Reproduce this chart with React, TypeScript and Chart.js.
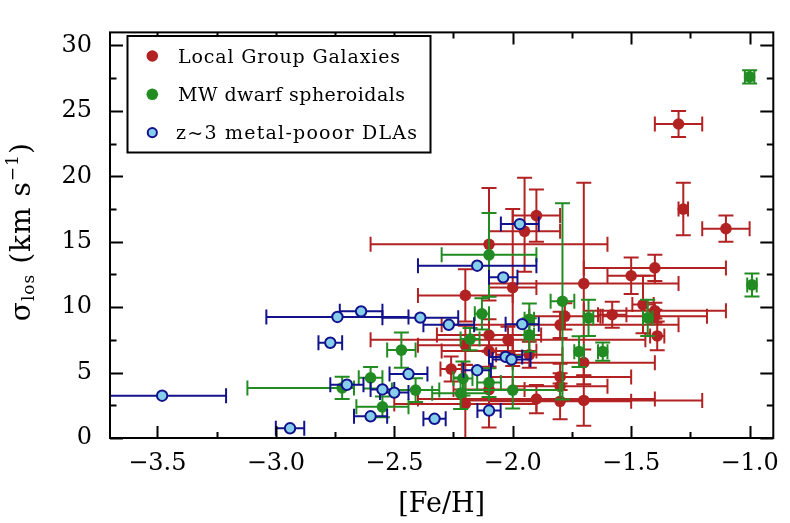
import React, { useEffect, useRef } from 'react';
import { Chart, registerables } from 'chart.js';

Chart.register(...registerables);

type Err = number | [number, number];

// ---- axis ranges / ticks ----
const X_MIN = -3.7;
const X_MAX = -0.9;
const Y_MIN = 0;
const Y_MAX = 31;
const X_MAJOR = 0.5;
const X_MINOR = 0.25;
const Y_MAJOR = 5;
const Y_MINOR = 2.5;

const X_TITLE = '[Fe/H]';
const Y_TITLE_PARTS: [string, 'main' | 'sub' | 'sup'][] = [
  ['\u03c3', 'main'],
  ['los', 'sub'],
  [' (km s', 'main'],
  ['\u22121', 'sup'],
  [')', 'main'],
];

// ---- Local Group Galaxies ----
const lgLabel = 'Local Group Galaxies';
const lgFeH = [-1.30, -1.28, -1.10, -1.90, -1.95, -2.10, -1.40, -1.50, -1.70, -2.00, -2.20, -1.45, -1.40, -1.58, -1.78, -1.40, -1.80, -2.10, -1.39, -2.02, -2.20, -2.10, -1.93, -1.70, -2.26, -1.80, -1.80, -2.10, -1.90, -1.70, -1.80, -2.20];
const lgSigma = [24.0, 17.5, 16.0, 17.0, 15.8, 14.8, 13.0, 12.4, 11.8, 11.5, 10.9, 10.2, 9.73, 9.42, 9.3, 9.3, 8.65, 7.87, 7.8, 7.5, 7.08, 6.65, 6.36, 5.76, 5.27, 4.67, 3.95, 3.7, 2.98, 2.87, 2.8, 2.6];
const lgFeHErr: Err[] = [0.1, 0.02, 0.1, 0.1, 0.15, 0.5, 0.3, 0.1, 0.4, 0.1, 0.2, 0.045, 0.3, 0.06, 0.15, 0.22, 0.5, 0.22, 0.03, 0.58, 0.2, 0.2, 0.14, 0.3, 0.045, 0.3, 0.2, 0.15, 0.5, 0.5, 0.3, 0.3];
const lgSigmaErr: Err[] = [1.0, 2.0, 1.0, 2.0, [3.1, 4.1], 4.3, 1.0, 1.4, 7.7, 6.0, 2.0, 2.2, 0.6, 1.0, 1.0, 0.5, 1.0, 1.2, 1.1, 1.0, 1.5, 1.2, 1.0, 1.0, 0.95, 1.0, 1.0, 2.9, 1.08, 1.93, 1.37, 3.0];

// ---- MW dwarf spheroidals ----
const dsLabel = 'MW dwarf spheroidals';
const dsFeH = [-1.00, -0.99, -1.79, -1.68, -1.43, -1.72, -1.62, -1.93, -1.93, -2.00, -2.13, -2.18, -2.47, -2.60, -2.41, -2.55, -2.21, -2.22, -2.10, -2.10, -2.72];
const dsSigma = [27.6, 11.7, 10.45, 9.18, 9.18, 6.6, 6.6, 9.08, 7.88, 3.66, 9.49, 7.56, 6.72, 4.6, 3.66, 2.38, 4.55, 3.42, 4.24, 14.0, 3.83];
const dsFeHErr: Err[] = [0.02, 0.02, 0.05, 0.02, 0.02, 0.02, 0.02, 0.02, 0.02, 0.2, 0.03, 0.04, 0.06, 0.05, 0.1, 0.11, 0.04, 0.12, 0.05, 0.2, [0.4, 0.05]];
const dsSigmaErr: Err[] = [0.5, 0.88, 7.5, 1.38, 1.38, 1.17, 0.7, 1.2, 1.28, [1.4, 2.6], 1.2, 0.85, 1.35, 0.82, 0.9, 0.8, 1.3, 1.2, 1.1, 3.2, 0.85];

// ---- z~3 metal-poor DLAs ----
const dlaLabel = 'z~3 metal-pooor DLAs';
const dlaFeH = [-3.48, -2.94, -2.77, -2.74, -2.64, -2.39, -2.15, -2.04, -1.97, -2.27, -1.96, -2.44, -2.15, -2.03, -2.005, -2.55, -2.50, -2.60, -2.33, -2.10, -2.70];
const dlaSigma = [3.23, 0.74, 7.28, 9.25, 9.68, 9.2, 13.17, 12.28, 16.35, 8.65, 8.7, 4.89, 5.18, 6.2, 6.0, 3.71, 3.47, 1.66, 1.47, 2.1, 4.07];
const dlaFeHErr: Err[] = [0.27, 0.06, 0.05, 0.30, 0.09, 0.16, 0.25, 0.06, 0.08, 0.107, 0.07, 0.08, 0.058, 0.07, 0.08, 0.05, 0.06, 0.07, 0.047, 0.049, 0.07];
const dlaSigmaErr: Err[] = dlaFeH.map(() => 0);

// ---- styles ----
const RED = '#b22222';
const GREEN = '#228b22';
const NAVY = '#12128c';
const SKY = '#87ceeb';
const SERIF = "'DejaVu Serif', serif";

const pair = (e: Err): [number, number] => (Array.isArray(e) ? e : [e, e]);
const toPoints = (xs: number[], ys: number[]) => xs.map((x, i) => ({ x, y: ys[i] }));

const errorBarPlugin = {
  id: 'errorBars',
  beforeDatasetDraw(chart: any, args: any) {
    const ds = chart.data.datasets[args.index];
    if (!ds.errX) return;
    const xs = chart.scales.x;
    const ys = chart.scales.y;
    const ctx: CanvasRenderingContext2D = chart.ctx;
    const a = chart.chartArea;
    const cap = 7.5;
    ctx.save();
    ctx.beginPath();
    ctx.rect(a.left, a.top, a.right - a.left, a.bottom - a.top);
    ctx.clip();
    ctx.strokeStyle = ds.errColor;
    ctx.lineWidth = 2;
    ctx.lineCap = 'butt';
    ds.data.forEach((p: any, i: number) => {
      const px = xs.getPixelForValue(p.x);
      const py = ys.getPixelForValue(p.y);
      const [xl, xh] = pair(ds.errX[i]);
      const [yl, yh] = pair(ds.errY[i]);
      ctx.beginPath();
      if (xl || xh) {
        const l = xs.getPixelForValue(p.x - xl);
        const r = xs.getPixelForValue(p.x + xh);
        ctx.moveTo(l, py);
        ctx.lineTo(r, py);
        if (xl) { ctx.moveTo(l, py - cap); ctx.lineTo(l, py + cap); }
        if (xh) { ctx.moveTo(r, py - cap); ctx.lineTo(r, py + cap); }
      }
      if (yl || yh) {
        const b = ys.getPixelForValue(p.y - yl);
        const t = ys.getPixelForValue(p.y + yh);
        ctx.moveTo(px, b);
        ctx.lineTo(px, t);
        if (yl) { ctx.moveTo(px - cap, b); ctx.lineTo(px + cap, b); }
        if (yh) { ctx.moveTo(px - cap, t); ctx.lineTo(px + cap, t); }
      }
      ctx.stroke();
    });
    ctx.restore();
  },
};

function drawSpaced(ctx: CanvasRenderingContext2D, text: string, x: number, y: number, sp: number) {
  let cx = x;
  for (const ch of Array.from(text)) {
    ctx.fillText(ch, cx, y);
    cx += ctx.measureText(ch).width + sp;
  }
  return cx;
}
function spacedWidth(ctx: CanvasRenderingContext2D, text: string, sp: number) {
  let w = 0;
  const chars = Array.from(text);
  chars.forEach((ch, i) => { w += ctx.measureText(ch).width + (i < chars.length - 1 ? sp : 0); });
  return w;
}

const framePlugin = {
  id: 'frameTicks',
  afterDatasetsDraw(chart: any) {
    const ctx: CanvasRenderingContext2D = chart.ctx;
    const a = chart.chartArea;
    const xs = chart.scales.x;
    const ys = chart.scales.y;
    ctx.save();
    ctx.strokeStyle = '#000';
    ctx.lineWidth = 2;
    ctx.beginPath();
    const xMaj = 12, xMin = 6;
    for (let v = Math.ceil(X_MIN / X_MINOR) * X_MINOR; v <= X_MAX + 1e-9; v += X_MINOR) {
      const isMaj = Math.abs(v / X_MAJOR - Math.round(v / X_MAJOR)) < 1e-6;
      const len = isMaj ? xMaj : xMin;
      const p = Math.round(xs.getPixelForValue(v)) + 0.5;
      ctx.moveTo(p, a.bottom); ctx.lineTo(p, a.bottom - len);
      ctx.moveTo(p, a.top); ctx.lineTo(p, a.top + len);
    }
    for (let v = Math.ceil(Y_MIN / Y_MINOR) * Y_MINOR; v <= Y_MAX + 1e-9; v += Y_MINOR) {
      const isMaj = Math.abs(v / Y_MAJOR - Math.round(v / Y_MAJOR)) < 1e-6;
      const len = isMaj ? 13 : 6.5;
      const p = Math.round(ys.getPixelForValue(v)) + 0.5;
      ctx.moveTo(a.left, p); ctx.lineTo(a.left + len, p);
      ctx.moveTo(a.right, p); ctx.lineTo(a.right - len, p);
    }
    ctx.stroke();
    ctx.strokeRect(a.left, a.top, a.right - a.left, a.bottom - a.top);
    ctx.restore();
  },
  afterDraw(chart: any) {
    const ctx: CanvasRenderingContext2D = chart.ctx;
    const a = chart.chartArea;
    ctx.save();
    ctx.fillStyle = '#000';
    // x title
    ctx.font = `27px ${SERIF}`;
    ctx.textAlign = 'center';
    ctx.textBaseline = 'alphabetic';
    ctx.fillText(X_TITLE, (a.left + a.right) / 2, 512);

    // y title (rotated, with sub/superscripts)
    const sizes = { main: 28, sub: 17, sup: 17 };
    const shift = { main: 0, sub: 4, sup: -12 };
    const target = 178;
    ctx.textAlign = 'left';
    let natural = 0;
    let nChars = 0;
    Y_TITLE_PARTS.forEach(([t, k]) => {
      ctx.font = `${sizes[k]}px ${SERIF}`;
      natural += ctx.measureText(t).width;
      nChars += Array.from(t).length;
    });
    const sp = Math.max(0, (target - natural) / (nChars - 1));
    const cy = (a.top + a.bottom) / 2 - 3;
    ctx.translate(30, cy + target / 2);
    ctx.rotate(-Math.PI / 2);
    let cx = 0;
    Y_TITLE_PARTS.forEach(([t, k]) => {
      ctx.font = `${sizes[k]}px ${SERIF}`;
      cx = drawSpaced(ctx, t, cx, shift[k], sp);
    });
    ctx.restore();

    // legend
    ctx.save();
    ctx.strokeStyle = '#000';
    ctx.lineWidth = 2;
    ctx.fillStyle = '#fff';
    ctx.fillRect(127.5, 36, 303, 116.5);
    ctx.strokeRect(127.5, 36, 303, 116.5);
    ctx.font = `19px ${SERIF}`;
    ctx.textAlign = 'left';
    ctx.textBaseline = 'alphabetic';
    const targets = [222, 227, 241];
    const ds = chart.data.datasets;
    const order = [0, 1, 2];
    order.forEach((di, row) => {
      const d = ds[di];
      const y = 56 + row * 38.3;
      ctx.beginPath();
      ctx.arc(152.3, y, d.legendRadius, 0, Math.PI * 2);
      ctx.fillStyle = d.pointBackgroundColor;
      ctx.fill();
      if (d.pointBorderWidth > 0) {
        ctx.lineWidth = d.pointBorderWidth;
        ctx.strokeStyle = d.pointBorderColor;
        ctx.stroke();
      }
      ctx.fillStyle = '#000';
      const text: string = d.label;
      const nat = ctx.measureText(text).width;
      const n = Array.from(text).length;
      const s = (targets[row] - nat) / (n - 1);
      drawSpaced(ctx, text, row === 2 ? 176 : 178, y + 6.5, s);
    });
    ctx.restore();
  },
};

const fmtX = (v: number | string) => Number(v).toFixed(1).replace('-', '\u2212');

export default function App() {
  const ref = useRef<HTMLCanvasElement>(null);
  useEffect(() => {
    if (!ref.current) return;
    const chart = new Chart(ref.current, {
      type: 'scatter',
      data: {
        datasets: [
          {
            label: lgLabel,
            data: toPoints(lgFeH, lgSigma),
            errX: lgFeHErr,
            errY: lgSigmaErr,
            errColor: RED,
            pointRadius: 5.8,
            pointBackgroundColor: RED,
            pointBorderColor: RED,
            pointBorderWidth: 0,
            legendRadius: 5.8,
            order: 2,
          } as any,
          {
            label: dsLabel,
            data: toPoints(dsFeH, dsSigma),
            errX: dsFeHErr,
            errY: dsSigmaErr,
            errColor: GREEN,
            pointRadius: 5.8,
            pointBackgroundColor: GREEN,
            pointBorderColor: GREEN,
            pointBorderWidth: 0,
            legendRadius: 5.8,
            order: 1,
          } as any,
          {
            label: dlaLabel,
            data: toPoints(dlaFeH, dlaSigma),
            errX: dlaFeHErr,
            errY: dlaSigmaErr,
            errColor: NAVY,
            pointRadius: 5.2,
            pointBackgroundColor: SKY,
            pointBorderColor: NAVY,
            pointBorderWidth: 2,
            legendRadius: 4.6,
            order: 0,
          } as any,
        ],
      },
      options: {
        responsive: false,
        animation: false,
        devicePixelRatio: 1,
        events: [],
        layout: { padding: { top: 9, right: 7, left: 0, bottom: 0 }, autoPadding: false },
        plugins: { legend: { display: false }, tooltip: { enabled: false } },
        scales: {
          x: {
            type: 'linear',
            min: X_MIN,
            max: X_MAX,
            grid: { display: false, drawTicks: false },
            border: { display: false },
            ticks: {
              stepSize: X_MAJOR,
              includeBounds: false,
              autoSkip: false,
              maxRotation: 0,
              padding: 11,
              color: '#000',
              font: { family: SERIF, size: 24 },
              callback: (v: any) => fmtX(v),
            },
            afterFit: (s: any) => { s.height = 85; },
          },
          y: {
            type: 'linear',
            min: Y_MIN,
            max: Y_MAX,
            grid: { display: false, drawTicks: false },
            border: { display: false },
            ticks: {
              stepSize: Y_MAJOR,
              includeBounds: false,
              autoSkip: false,
              padding: 18,
              color: '#000',
              font: { family: SERIF, size: 24 },
              callback: (v: any) => String(v),
            },
            afterFit: (s: any) => { s.width = 110; },
          },
        },
      } as any,
      plugins: [errorBarPlugin, framePlugin],
    });
    return () => chart.destroy();
  }, []);
  return (
    <div style={{ position: 'fixed', left: 0, top: 0, width: 790, height: 523, background: '#fff' }}>
      <canvas ref={ref} width={790} height={523} style={{ display: 'block', width: 790, height: 523 }} />
    </div>
  );
}
